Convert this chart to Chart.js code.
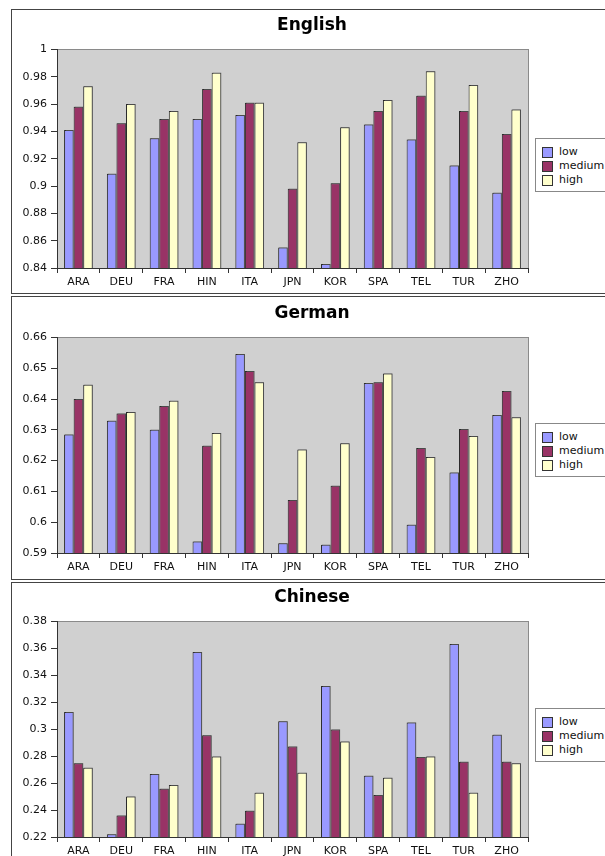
<!DOCTYPE html>
<html>
<head>
<meta charset="utf-8">
<script src="https://cdn.jsdelivr.net/npm/chart.js@4/dist/chart.umd.min.js"></script>
<style>
  html, body { margin: 0; padding: 0; background: #fff; overflow: hidden; }
  body { width: 605px; height: 856px; position: relative; font-family: "DejaVu Sans", sans-serif; }
  .panel { position: absolute; left: 11px; width: 600px; border: 1px solid #444; }
  .panel canvas { position: absolute; left: 0; top: 0; }
  .legend { position: absolute; left: 523px; width: 90px; height: 52px; border: 1px solid #888; background: #fff; font-size: 11px; color: #111; }
  .legend .row { position: absolute; left: 0; height: 14px; line-height: 14px; }
  .legend .sw { position: absolute; left: 6px; top: 2px; width: 9px; height: 9px; border: 1px solid #333; }
  .legend .lb { position: absolute; left: 23px; top: 0; white-space: nowrap; }
</style>
</head>
<body>

<div class="panel" id="p1" style="top:9px;height:283px;">
  <canvas id="c1" width="600" height="283"></canvas>
</div>
<div class="panel" id="p2" style="top:296px;height:282px;">
  <canvas id="c2" width="600" height="282"></canvas>
</div>
<div class="panel" id="p3" style="top:582px;height:290px;">
  <canvas id="c3" width="600" height="290"></canvas>
</div>

<script>
// data
const categories = ["ARA", "DEU", "FRA", "HIN", "ITA", "JPN", "KOR", "SPA", "TEL", "TUR", "ZHO"];
const seriesNames = ["low", "medium", "high"];
const seriesColors = ["#9999ff", "#993366", "#ffffcc"];

const englishLow    = [0.941, 0.909, 0.935, 0.949, 0.952, 0.855, 0.843, 0.945, 0.934, 0.915, 0.895];
const englishMedium = [0.958, 0.946, 0.949, 0.971, 0.961, 0.898, 0.902, 0.955, 0.966, 0.955, 0.938];
const englishHigh   = [0.973, 0.960, 0.955, 0.983, 0.961, 0.932, 0.943, 0.963, 0.984, 0.974, 0.956];

const germanLow    = [0.6285, 0.6329, 0.6300, 0.5937, 0.6546, 0.5932, 0.5927, 0.6452, 0.5992, 0.6161, 0.6348];
const germanMedium = [0.6400, 0.6353, 0.6377, 0.6248, 0.6491, 0.6072, 0.6118, 0.6454, 0.6241, 0.6303, 0.6426];
const germanHigh   = [0.6446, 0.6358, 0.6394, 0.6290, 0.6454, 0.6236, 0.6256, 0.6483, 0.6212, 0.6280, 0.6341];

const chineseLow    = [0.3128, 0.2220, 0.2667, 0.3573, 0.2299, 0.3059, 0.3321, 0.2654, 0.3049, 0.3632, 0.2958];
const chineseMedium = [0.2748, 0.2360, 0.2558, 0.2956, 0.2395, 0.2872, 0.2998, 0.2511, 0.2793, 0.2758, 0.2758];
const chineseHigh   = [0.2714, 0.2501, 0.2585, 0.2798, 0.2528, 0.2677, 0.2909, 0.2640, 0.2798, 0.2528, 0.2748];

// y axis: min, max, step
const englishTicks = [0.84, 1, 0.02];
const germanTicks  = [0.59, 0.66, 0.01];
const chineseTicks = [0.22, 0.38, 0.02];

// grey plot background + shadow under bars
const plotBg = {
  id: "plotBg",
  beforeDraw(chart) {
    const { ctx, chartArea: a } = chart;
    ctx.save();
    ctx.fillStyle = "#d0d0d0";
    ctx.fillRect(a.left, a.top, a.right - a.left, a.bottom - a.top);
    ctx.strokeStyle = "#8a8a8a";
    ctx.lineWidth = 1;
    ctx.strokeRect(Math.round(a.left) + 0.5, Math.round(a.top) + 0.5, Math.round(a.right - a.left), Math.round(a.bottom - a.top));
    ctx.restore();
  },
  beforeDatasetsDraw(chart) {
    const ctx = chart.ctx;
    ctx.save();
    ctx.shadowColor = "rgba(90,90,90,0.7)";
    ctx.shadowOffsetX = 1;
    ctx.shadowOffsetY = -1;
    ctx.shadowBlur = 0;
  },
  afterDatasetsDraw(chart) {
    chart.ctx.restore();
  }
};

function makeChart(canvasId, panelId, title, values, ticks, titleTop, xHeight, legendTop) {
  new Chart(document.getElementById(canvasId), {
    type: "bar",
    data: {
      labels: categories,
      datasets: seriesNames.map((name, i) => ({
        label: name,
        data: values[i],
        backgroundColor: seriesColors[i],
        borderColor: "#2a2a2a",
        borderWidth: 1,
        barPercentage: 1,
        categoryPercentage: 0.67
      }))
    },
    options: {
      responsive: false,
      animation: false,
      devicePixelRatio: 1,
      layout: { padding: 0 },
      plugins: {
        legend: { display: false },
        tooltip: { enabled: false },
        title: {
          display: true,
          text: title,
          color: "#000",
          font: { family: "DejaVu Sans", size: 17, weight: "bold" },
          padding: { top: titleTop, bottom: 14 }
        }
      },
      scales: {
        x: {
          grid: { display: true, drawOnChartArea: false, offset: true, tickLength: 5, color: "#333" },
          border: { color: "#333" },
          ticks: { color: "#111", font: { family: "DejaVu Sans", size: 11 }, padding: 3, maxRotation: 0 },
          afterFit: s => { s.height = xHeight; }
        },
        y: {
          min: ticks[0],
          max: ticks[1],
          grid: { display: true, drawOnChartArea: false, tickLength: 6, color: "#333" },
          border: { color: "#333" },
          ticks: {
            stepSize: ticks[2],
            color: "#111",
            font: { family: "DejaVu Sans", size: 11 },
            padding: 4,
            callback: v => String(+v.toFixed(2))
          },
          afterFit: s => { s.width = 45; }
        },
        // empty axis on the right that only reserves room for the legend box
        yRight: {
          position: "right",
          min: ticks[0],
          max: ticks[1],
          grid: { display: false },
          border: { display: false },
          ticks: { display: false },
          afterFit: s => { s.width = 84; }
        }
      }
    },
    plugins: [plotBg]
  });

  // legend box
  const lg = document.createElement("div");
  lg.className = "legend";
  lg.style.top = legendTop + "px";
  seriesNames.forEach((name, i) => {
    const row = document.createElement("div");
    row.className = "row";
    row.style.top = (6 + i * 14) + "px";
    row.innerHTML = '<span class="sw" style="background:' + seriesColors[i] + '"></span><span class="lb">' + name + '</span>';
    lg.appendChild(row);
  });
  document.getElementById(panelId).appendChild(lg);
}

makeChart("c1", "p1", "English", [englishLow, englishMedium, englishHigh], englishTicks, 5, 25, 128);
makeChart("c2", "p2", "German", [germanLow, germanMedium, germanHigh], germanTicks, 6, 26, 126);
makeChart("c3", "p3", "Chinese", [chineseLow, chineseMedium, chineseHigh], chineseTicks, 4, 36, 125);
</script>
</body>
</html>
